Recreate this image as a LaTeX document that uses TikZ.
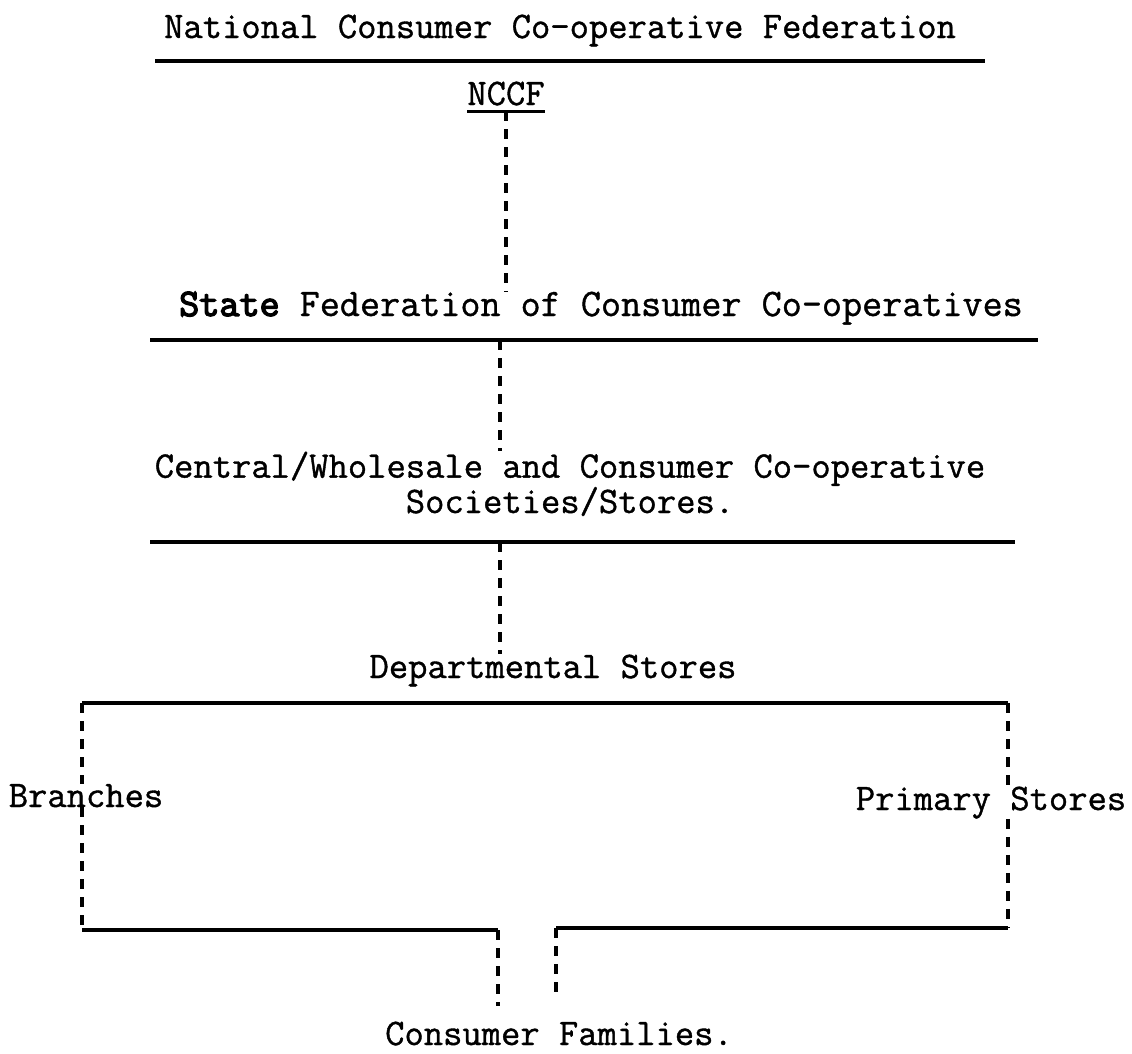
\documentclass[tikz,border=0pt]{standalone}
\usepackage{fontspec}
\setmonofont[FakeBold=1,BoldFont=*,BoldFeatures={FakeBold=3.5}]{Latin Modern Mono}
\usetikzlibrary{positioning}
\begin{document}
\begin{tikzpicture}[x=1pt,y=-1pt,
lvl/.style={font=\ttfamily\fontsize{37.5}{30}\selectfont,inner sep=0pt,anchor=base,align=center},
rule/.style={line width=4pt},
link/.style={line width=3.2pt,dash pattern=on 10pt off 8pt}]
\path[fill=white,use as bounding box](0,0)rectangle(1132,1053);
\node[lvl](national) at (560,38){National Consumer Co-operative Federation};
\node[lvl](nccf) at (506,105){NCCF};
\node[lvl,font=\ttfamily\fontsize{39}{30}\selectfont](state) at (601,316){\textbf{State} Federation of Consumer Co-operatives};
\node[lvl](central) at (570,513){Central/Wholesale and Consumer Co-operative\\Societies/Stores.};
\node[lvl](dept) at (553,678){Departmental Stores};
\node[lvl](branches) at (86,807){Branches};
\node[lvl](primary) at (991,810){Primary Stores};
\node[lvl](families) at (559,1045){Consumer Families.};
\coordinate(nu) at ([yshift=-6pt]nccf.base);
\coordinate(s2) at (500,340);\coordinate(s3) at (500,542);
\coordinate(dl) at (82,703);\coordinate(dr) at (1008,703);
\coordinate(bl) at (82,930);\coordinate(bm) at (498,930);
\coordinate(br) at (1008,928);\coordinate(bn) at (556,928);
\draw[rule](155,61)--(985,61);
\draw[rule,line width=3pt](nccf.west |- nu)--(nccf.east |- nu);
\draw[rule](150,340)--(1038,340);
\draw[rule](150,542)--(1015,542);
\draw[rule](dl)--(dr);
\draw[link](nu)--(nu |- state.north);
\draw[link](s2)--(s2 |- central.north);
\draw[link](s3)--(s3 |- dept.north);
\draw[link](dl)--(dl |- branches.north);\draw[link](dr)--(dr |- primary.north);
\draw[link](dl |- branches.south)--(bl);\draw[link](dr |- primary.south)--(br);
\draw[rule](bl)--(bm);\draw[rule](bn)--(br);
\draw[link,shorten >=15pt](bm)--(bm |- families.north);
\draw[link,shorten >=25pt](bn)--(bn |- families.north);
\end{tikzpicture}
\end{document}
